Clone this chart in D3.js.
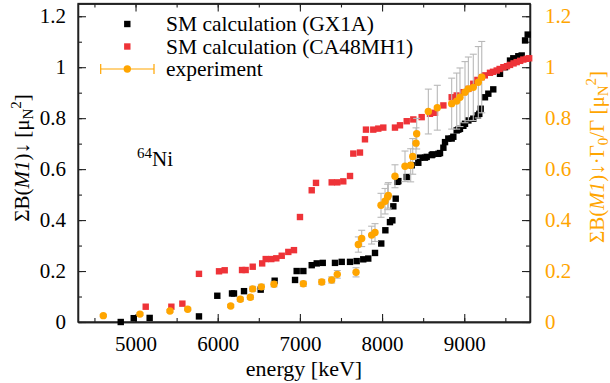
<!DOCTYPE html>
<html>
<head>
<meta charset="utf-8">
<script src="https://cdn.jsdelivr.net/npm/d3@7"></script>
<style>
body { margin: 0; background: #fff; }
svg text { font-family: "Liberation Serif", "Times New Roman", serif; }
</style>
</head>
<body>
<svg width="610" height="383"></svg>
<script>
// SM calculation (GX1A)
var gxEnergy = [4820, 4978, 5172, 5772, 5995, 6174, 6198, 6320, 6523, 6693, 6941, 6961, 7042, 7144, 7205, 7278, 7427, 7509, 7610, 7691, 7771, 7832, 7914, 7990, 8040, 8096, 8125, 8137, 8166, 8186, 8198, 8300, 8361, 8441, 8462, 8522, 8543, 8604, 8616, 8685, 8705, 8746, 8766, 8806, 8847, 8867, 8908, 8928, 8948, 8989, 9009, 9050, 9110, 9164, 9183, 9200, 9252, 9293, 9353, 9435, 9496, 9557, 9597, 9658, 9699, 9740, 9772];
var gxValue  = [0.000, 0.015, 0.016, 0.022, 0.103, 0.112, 0.112, 0.121, 0.127, 0.162, 0.165, 0.200, 0.200, 0.223, 0.230, 0.232, 0.232, 0.236, 0.236, 0.239, 0.246, 0.249, 0.271, 0.308, 0.360, 0.392, 0.399, 0.454, 0.484, 0.550, 0.553, 0.569, 0.615, 0.625, 0.645, 0.645, 0.648, 0.655, 0.658, 0.660, 0.663, 0.684, 0.706, 0.720, 0.720, 0.727, 0.752, 0.755, 0.758, 0.770, 0.778, 0.791, 0.798, 0.811, 0.817, 0.837, 0.882, 0.896, 0.913, 0.974, 1.000, 1.026, 1.035, 1.043, 1.046, 1.105, 1.128];

// SM calculation (CA48MH1)
var caEnergy = [5124, 5436, 5570, 5772, 6016, 6085, 6296, 6340, 6426, 6541, 6584, 6652, 6713, 6779, 6859, 6928, 7001, 7144, 7196, 7387, 7455, 7528, 7610, 7650, 7731, 7792, 7804, 7893, 7954, 8015, 8157, 8218, 8300, 8380, 8482, 8583, 8644, 8746, 8847, 8908, 8989, 9050, 9110, 9160, 9213, 9250, 9313, 9350, 9395, 9430, 9476, 9520, 9557, 9600, 9638, 9680, 9719, 9760, 9790];
var caValue  = [0.060, 0.060, 0.072, 0.189, 0.199, 0.203, 0.204, 0.204, 0.217, 0.230, 0.247, 0.247, 0.250, 0.260, 0.275, 0.282, 0.412, 0.517, 0.546, 0.548, 0.548, 0.552, 0.573, 0.661, 0.665, 0.717, 0.755, 0.755, 0.759, 0.763, 0.763, 0.772, 0.788, 0.795, 0.804, 0.817, 0.821, 0.850, 0.882, 0.889, 0.902, 0.915, 0.935, 0.950, 0.961, 0.968, 0.978, 0.982, 0.987, 0.993, 1.000, 1.004, 1.009, 1.015, 1.020, 1.025, 1.030, 1.033, 1.035];

// experiment
var expEnergy = [4608, 5054, 5419, 5635, 6158, 6275, 6397, 6426, 6531, 6685, 7042, 7266, 7387, 7455, 7683, 7711, 7752, 7873, 7914, 7987, 8036, 8068, 8076, 8157, 8279, 8348, 8373, 8413, 8421, 8563, 8672, 8847, 8908, 8948, 9009, 9050, 9110, 9171, 9213];
var expValue  = [0.025, 0.031, 0.043, 0.050, 0.063, 0.089, 0.097, 0.130, 0.138, 0.148, 0.150, 0.157, 0.165, 0.187, 0.195, 0.304, 0.328, 0.341, 0.351, 0.458, 0.474, 0.491, 0.497, 0.572, 0.611, 0.615, 0.650, 0.702, 0.739, 0.826, 0.841, 0.857, 0.867, 0.882, 0.902, 0.915, 0.921, 0.941, 0.961];
var expError  = [0.004, 0.005, 0.005, 0.005, 0.006, 0.008, 0.008, 0.010, 0.010, 0.010, 0.010, 0.010, 0.012, 0.015, 0.018, 0.030, 0.032, 0.035, 0.035, 0.047, 0.050, 0.050, 0.050, 0.045, 0.060, 0.065, 0.070, 0.060, 0.060, 0.088, 0.088, 0.100, 0.110, 0.115, 0.120, 0.125, 0.130, 0.140, 0.140];

var xTicks = [5000, 6000, 7000, 8000, 9000];
var yTicks = [0, 0.2, 0.4, 0.6, 0.8, 1, 1.2];

var legendLabels = ["SM calculation (GX1A)", "SM calculation (CA48MH1)", "experiment"];

var colBlack = "#000000", colRed = "#ee3338", colOrange = "#ffa500", colErr = "#b8b8b8";

var margin = {left: 78, right: 80, top: 3.5, bottom: 61};
var W = 610, H = 383;
var svg = d3.select("svg");

var x = d3.scaleLinear().domain([4300, 9800]).range([margin.left, W - margin.right]);
var y = d3.scaleLinear().domain([0, 1.25]).range([H - margin.bottom, margin.top]);
var yRight = y.copy();

var fmt = d => d3.format("~g")(d);
var fs = 21;

// axes (ticks inward, mirrored)
var xMinor = d3.range(4500, 9801, 500);
var yMinor = d3.range(0, 1.251, 0.1);

svg.append("g").attr("transform", `translate(0,${y(0)})`)
    .call(d3.axisBottom(x).tickValues(xMinor).tickSizeInner(-4).tickSizeOuter(0).tickFormat(""));
svg.append("g").attr("transform", `translate(0,${y(0)})`)
    .call(d3.axisBottom(x).tickValues(xTicks).tickSizeInner(-8).tickSizeOuter(0).tickPadding(14).tickFormat(fmt));
svg.append("g").attr("transform", `translate(0,${margin.top})`)
    .call(d3.axisTop(x).tickValues(xMinor).tickSizeInner(-4).tickSizeOuter(0).tickFormat(""));
svg.append("g").attr("transform", `translate(0,${margin.top})`)
    .call(d3.axisTop(x).tickValues(xTicks).tickSizeInner(-8).tickSizeOuter(0).tickFormat(""));

svg.append("g").attr("transform", `translate(${margin.left},0)`)
    .call(d3.axisLeft(y).tickValues(yMinor).tickSizeInner(-4).tickSizeOuter(0).tickFormat(""));
svg.append("g").attr("transform", `translate(${margin.left},0)`)
    .call(d3.axisLeft(y).tickValues(yTicks).tickSizeInner(-8).tickSizeOuter(0).tickPadding(12).tickFormat(fmt));
svg.append("g").attr("transform", `translate(${W - margin.right},0)`)
    .call(d3.axisRight(y).tickValues(yMinor).tickSizeInner(-4).tickSizeOuter(0).tickFormat(""));
svg.append("g").attr("transform", `translate(${W - margin.right},0)`)
    .call(d3.axisRight(y).tickValues(yTicks).tickSizeInner(-8).tickSizeOuter(0).tickFormat(""));

// right axis labels (orange, no ticks of its own)
var rightAx = svg.append("g").attr("transform", `translate(${W - margin.right},0)`)
    .call(d3.axisRight(yRight).tickValues(yTicks).tickSize(0).tickPadding(15).tickFormat(fmt));
rightAx.select(".domain").remove();
rightAx.selectAll("text").attr("fill", colOrange);

svg.selectAll(".domain").attr("stroke", "#222").attr("stroke-width", 1.3);
svg.selectAll(".tick line").attr("stroke", "#222").attr("stroke-width", 1.1);
svg.selectAll(".tick text").style("font-size", fs + "px").style("font-family", "Liberation Serif");

// frame
svg.append("rect")
    .attr("x", margin.left).attr("y", margin.top)
    .attr("width", W - margin.right - margin.left).attr("height", y(0) - margin.top)
    .attr("fill", "none").attr("stroke", "#222").attr("stroke-width", 1.3);

var sq = 6.4;
function squares(xs, ys, color) {
    svg.append("g").selectAll("rect").data(xs).join("rect")
        .attr("x", (d, i) => x(d) - sq / 2)
        .attr("y", (d, i) => y(ys[i]) - sq / 2)
        .attr("width", sq).attr("height", sq)
        .attr("fill", color);
}
squares(gxEnergy, gxValue, colBlack);
squares(caEnergy, caValue, colRed);

// experiment error bars
var eb = svg.append("g").attr("stroke", colErr).attr("stroke-width", 1.1);
expEnergy.forEach((e, i) => {
    var cx = x(e), y0 = yRight(expValue[i] - expError[i]), y1 = yRight(expValue[i] + expError[i]);
    eb.append("line").attr("x1", cx).attr("x2", cx).attr("y1", y0).attr("y2", y1);
    eb.append("line").attr("x1", cx - 3.5).attr("x2", cx + 3.5).attr("y1", y0).attr("y2", y0);
    eb.append("line").attr("x1", cx - 3.5).attr("x2", cx + 3.5).attr("y1", y1).attr("y2", y1);
});
svg.append("g").selectAll("circle").data(expEnergy).join("circle")
    .attr("cx", d => x(d))
    .attr("cy", (d, i) => yRight(expValue[i]))
    .attr("r", 3.7)
    .attr("fill", colOrange);

// legend
var lg = svg.append("g");
var lgX = 127.3, lgY = [24, 46.5, 69];
lg.append("rect").attr("x", lgX - sq / 2).attr("y", lgY[0] - sq / 2).attr("width", sq).attr("height", sq).attr("fill", colBlack);
lg.append("rect").attr("x", lgX - sq / 2).attr("y", lgY[1] - sq / 2).attr("width", sq).attr("height", sq).attr("fill", colRed);
lg.append("line").attr("x1", 100.7).attr("x2", 154).attr("y1", lgY[2]).attr("y2", lgY[2]).attr("stroke", colOrange).attr("stroke-width", 1.2);
lg.append("line").attr("x1", 100.7).attr("x2", 100.7).attr("y1", lgY[2] - 5).attr("y2", lgY[2] + 5).attr("stroke", colOrange).attr("stroke-width", 1.2);
lg.append("line").attr("x1", 154).attr("x2", 154).attr("y1", lgY[2] - 5).attr("y2", lgY[2] + 5).attr("stroke", colOrange).attr("stroke-width", 1.2);
lg.append("circle").attr("cx", lgX).attr("cy", lgY[2]).attr("r", 3.7).attr("fill", colOrange);
lg.selectAll("text").data(legendLabels).join("text")
    .attr("x", 166).attr("y", (d, i) => lgY[i] + 7.2)
    .style("font-size", "21.5px")
    .text(d => d);

// nucleus label
var nuc = svg.append("text").attr("x", 137).attr("y", 166).style("font-size", "21px");
nuc.append("tspan").attr("dy", -8).style("font-size", "15px").text("64");
nuc.append("tspan").attr("dy", 8).text("Ni");

// axis titles
svg.append("text")
    .attr("x", (x(4300) + x(9800)) / 2).attr("y", 376)
    .attr("text-anchor", "middle").style("font-size", "22px")
    .text("energy [keV]");

var yl = svg.append("text")
    .attr("transform", "translate(29,158) rotate(-90)")
    .attr("text-anchor", "middle").style("font-size", "21px");
yl.append("tspan").text("ΣB(");
yl.append("tspan").style("font-style", "italic").text("M1");
yl.append("tspan").text(")↓ [μ");
yl.append("tspan").attr("dy", 4).style("font-size", "15px").text("N");
yl.append("tspan").attr("dy", -12).style("font-size", "15px").text("2");
yl.append("tspan").attr("dy", 8).text("]");

var yr = svg.append("text")
    .attr("transform", "translate(604,157) rotate(-90)")
    .attr("text-anchor", "middle").attr("fill", colOrange).style("font-size", "21px");
yr.append("tspan").text("ΣB(");
yr.append("tspan").style("font-style", "italic").text("M1");
yr.append("tspan").text(")↓·Γ");
yr.append("tspan").attr("dy", 4).style("font-size", "15px").text("0");
yr.append("tspan").attr("dy", -4).text("/Γ [μ");
yr.append("tspan").attr("dy", 4).style("font-size", "15px").text("N");
yr.append("tspan").attr("dy", -12).style("font-size", "15px").text("2");
yr.append("tspan").attr("dy", 8).text("]");
</script>
</body>
</html>
